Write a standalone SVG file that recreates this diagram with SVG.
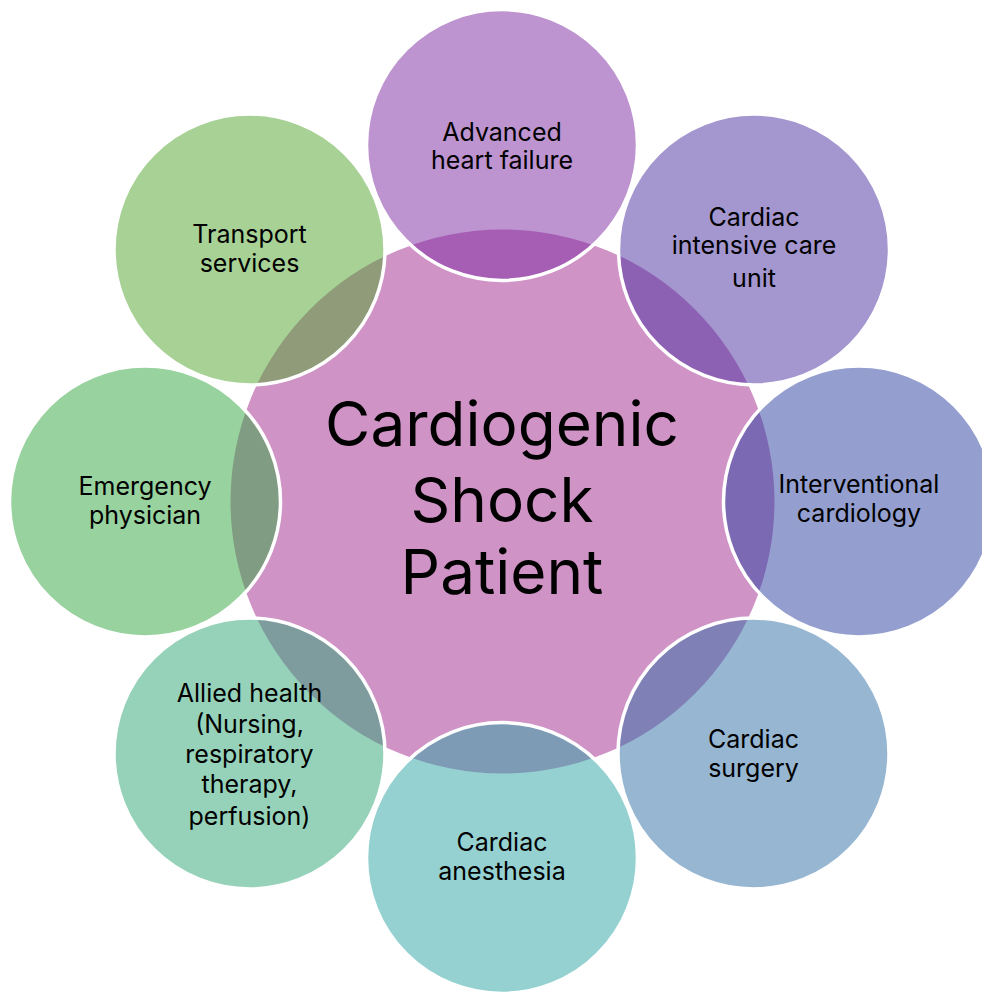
<svg xmlns="http://www.w3.org/2000/svg" width="982" height="993" viewBox="0 0 982 993">
<style>
.sat{fill-opacity:0.5;stroke:#fff;stroke-width:3.5}
.t{font-family:Inter,"Liberation Sans",sans-serif;font-size:25px;fill:#000;text-anchor:middle}
.c{font-family:Inter,"Liberation Sans",sans-serif;font-size:62px;fill:#000;text-anchor:middle}
</style>
<rect width="982" height="993" fill="#fff"/>
<g id="center">
<circle cx="502.5" cy="501.5" r="272" fill="#CF93C6"/>
<text class="c" x="502" y="446">Cardiogenic</text>
<text class="c" x="502" y="522">Shock</text>
<text class="c" x="502" y="594">Patient</text>
</g>
<g id="connectors"></g>
<g id="advanced">
<circle class="sat" cx="502" cy="145" r="135.5" fill="#7B299F"/>
<text class="t" x="502" y="141">Advanced</text>
<text class="t" x="502" y="169">heart failure</text>
</g>
<g id="cicu">
<circle class="sat" cx="754" cy="249.5" r="135.5" fill="#492D9D"/>
<text class="t" x="754" y="226">Cardiac</text>
<text class="t" x="754" y="254">intensive care</text>
<text class="t" x="754" y="287">unit</text>
</g>
<g id="interventional">
<circle class="sat" cx="859" cy="501.5" r="135.5" fill="#293F9F"/>
<text class="t" x="859" y="493">Interventional</text>
<text class="t" x="859" y="522">cardiology</text>
</g>
<g id="surgery">
<circle class="sat" cx="753.5" cy="753.5" r="135.5" fill="#2D6DA5"/>
<text class="t" x="753.5" y="748">Cardiac</text>
<text class="t" x="753.5" y="777">surgery</text>
</g>
<g id="anesthesia">
<circle class="sat" cx="502" cy="858" r="135.5" fill="#2DA3A5"/>
<text class="t" x="502" y="851">Cardiac</text>
<text class="t" x="502" y="880">anesthesia</text>
</g>
<g id="allied">
<circle class="sat" cx="249.5" cy="753.5" r="135.5" fill="#2DA573"/>
<text class="t" x="249.5" y="702">Allied health</text>
<text class="t" x="249.5" y="733">(Nursing,</text>
<text class="t" x="249.5" y="763">respiratory</text>
<text class="t" x="249.5" y="793">therapy,</text>
<text class="t" x="249.5" y="825">perfusion)</text>
</g>
<g id="emergency">
<circle class="sat" cx="145" cy="501.5" r="135.5" fill="#31A53D"/>
<text class="t" x="145" y="495">Emergency</text>
<text class="t" x="145" y="524">physician</text>
</g>
<g id="transport">
<circle class="sat" cx="249.5" cy="249.5" r="135.5" fill="#4FA32B"/>
<text class="t" x="249.5" y="243">Transport</text>
<text class="t" x="249.5" y="272">services</text>
</g>
</svg>
